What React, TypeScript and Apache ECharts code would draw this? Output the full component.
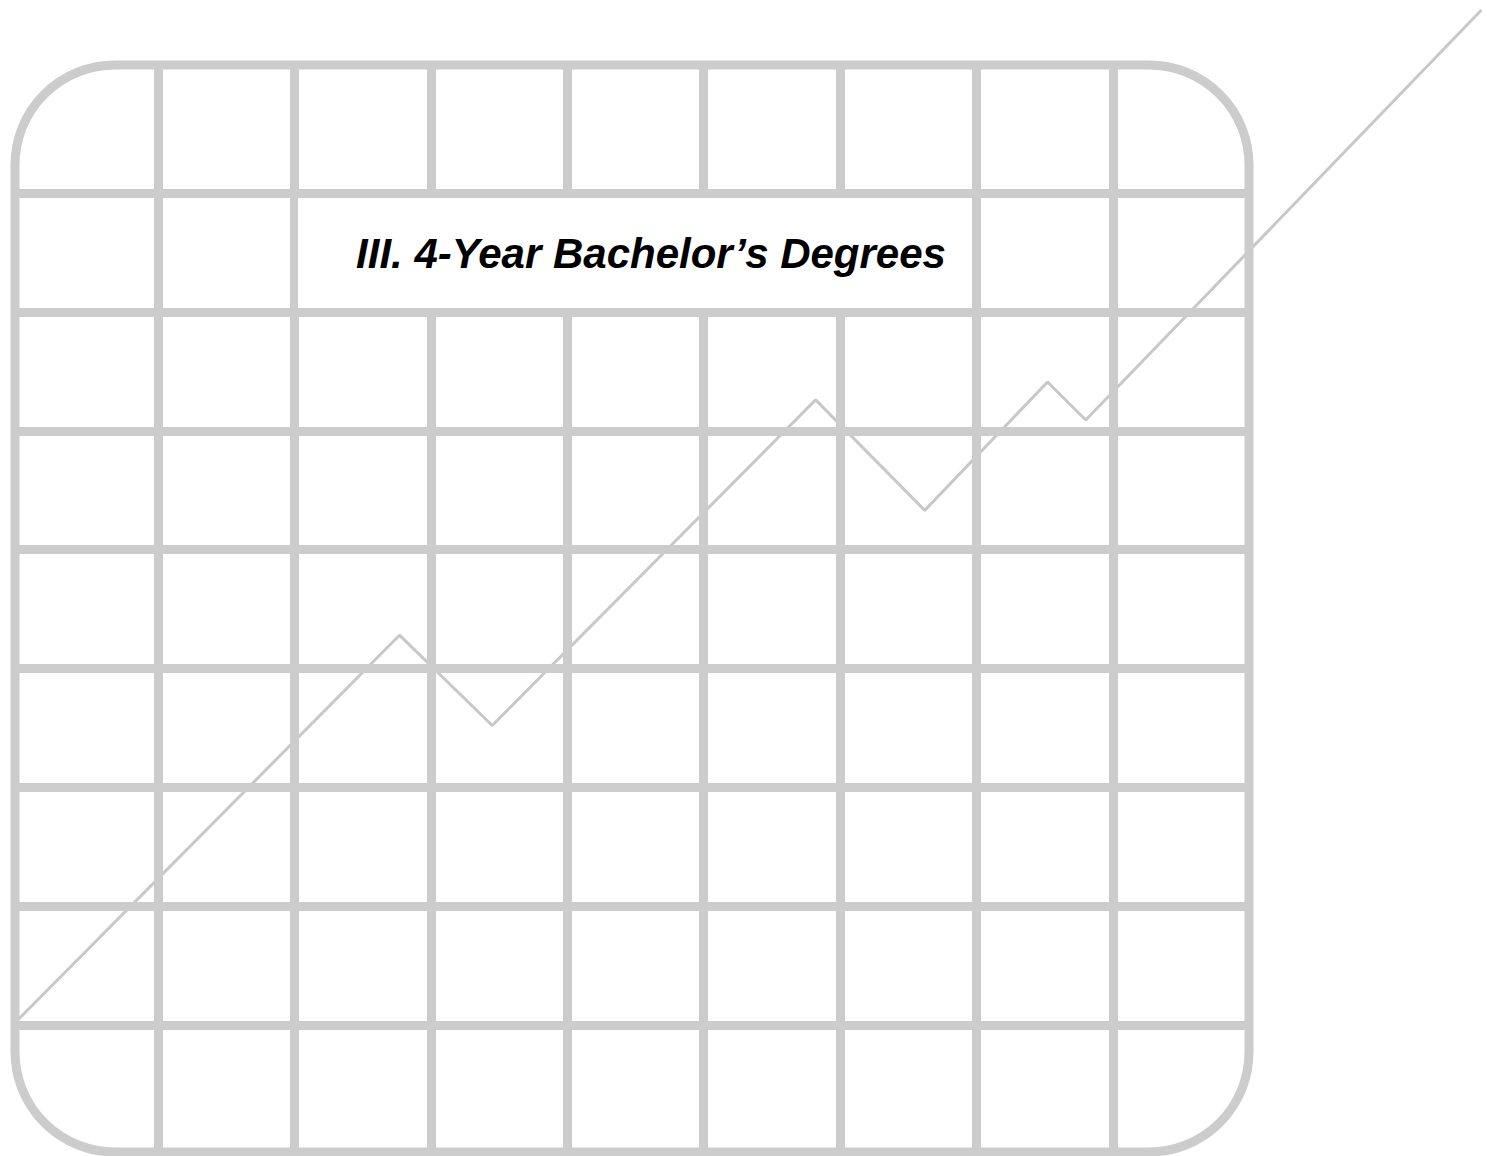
import { useEffect, useRef } from "react";
import * as echarts from "echarts";

// Positions (in axis units) of the inner grid lines of the decorative chart paper
const columnLines = [1, 2, 3, 4, 5, 6, 7, 8];
const rowLines = [1, 2, 3, 4, 5, 6, 7, 8];
// Extent of the rounded paper frame (axis units)
const frameX = [-0.048, 8.997];
const frameY = [-0.068, 9.077];

// Zig-zag trend line (axis units)
const trendX = [-0.03, 2.77, 3.45, 5.82, 6.62, 7.52, 7.8, 10.7];
const trendY = [1.04, 4.28, 3.52, 6.26, 5.33, 6.41, 6.09, 9.54];

const titleText = "III. 4-Year Bachelor\u2019s Degrees";

export default function App() {
  const ref = useRef<HTMLDivElement>(null);

  useEffect(() => {
    if (!ref.current) return;
    const chart = echarts.init(ref.current, null, { renderer: "svg" });
    const gridColor = "#cccccc";
    chart.setOption({
      animation: false,
      backgroundColor: "#ffffff",
      grid: { left: 15, top: 0, right: 0, bottom: 4 },
      xAxis: {
        type: "value",
        min: -0.048,
        max: 10.741,
        show: false,
        splitLine: { show: false },
      },
      yAxis: {
        type: "value",
        min: -0.068,
        max: 9.624,
        show: false,
        splitLine: { show: false },
      },
      series: [
        {
          type: "line",
          data: trendX.map((x, i) => [x, trendY[i]]),
          symbol: "none",
          clip: false,
          silent: true,
          z: 3,
          lineStyle: { color: "#c8c8c8", width: 3 },
          markLine: {
            silent: true,
            symbol: ["none", "none"],
            label: { show: false },
            emphasis: { disabled: true },
            lineStyle: { color: gridColor, width: 9, type: "solid" },
            data: [
              ...columnLines.map((v) => [
                { coord: [v, frameY[0]] },
                { coord: [v, frameY[1]] },
              ]),
              ...rowLines.map((v) => [
                { coord: [frameX[0], v] },
                { coord: [frameX[1], v] },
              ]),
            ],
          },
        },
      ],
      graphic: [
        {
          type: "rect",
          z: 20,
          silent: true,
          shape: { x: 15, y: 65, width: 1234, height: 1087, r: 100 },
          style: { fill: "none", stroke: gridColor, lineWidth: 9 },
        },
        {
          type: "rect",
          z: 30,
          silent: true,
          shape: { x: 298, y: 198, width: 674, height: 110 },
          style: { fill: "#ffffff" },
        },
        {
          type: "text",
          z: 40,
          silent: true,
          x: 651,
          y: 253,
          style: {
            text: titleText,
            fill: "#000000",
            align: "center",
            verticalAlign: "middle",
            fontSize: 42,
            fontWeight: "bold",
            fontStyle: "italic",
            fontFamily: "Arial, 'Liberation Sans', sans-serif",
          },
        },
      ],
    });
    return () => chart.dispose();
  }, []);

  return (
    <div
      ref={ref}
      style={{ position: "absolute", left: 0, top: 0, width: 1487, height: 1156, background: "#fff" }}
    />
  );
}
